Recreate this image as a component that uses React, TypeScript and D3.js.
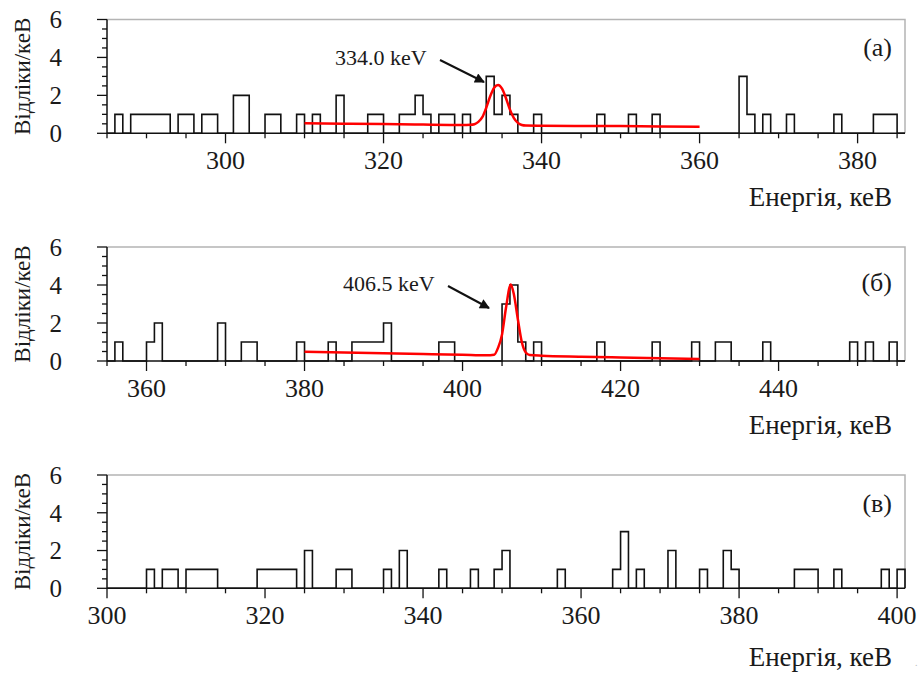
import React from "react";
import * as d3 from "d3";

// ---- data ----
// panel (a)
const binsA = [286, 288, 289, 290, 291, 292, 294, 295, 297, 298, 301, 302, 305, 306, 309, 311, 314, 318, 319, 322, 323, 324, 325, 327, 328, 330, 333, 334, 335, 336, 339, 347, 351, 354, 365, 366, 368, 371, 377, 382, 383, 384];
const countsA = [1, 1, 1, 1, 1, 1, 1, 1, 1, 1, 2, 2, 1, 1, 1, 1, 2, 1, 1, 1, 1, 2, 1, 1, 1, 1, 3, 1, 2, 1, 1, 1, 1, 1, 3, 1, 1, 1, 1, 1, 1, 1];
const fitAx = [310, 315, 320, 325, 330, 331, 331.5, 332, 332.5, 333, 333.5, 334, 334.5, 335, 335.5, 336, 336.5, 337, 337.5, 338, 340, 345, 350, 355, 360];
const fitAy = [0.53, 0.51, 0.49, 0.46, 0.44, 0.45, 0.48, 0.6, 0.85, 1.35, 1.95, 2.4, 2.55, 2.35, 1.85, 1.25, 0.8, 0.55, 0.44, 0.41, 0.4, 0.39, 0.38, 0.36, 0.35];

// panel (б)
const binsB = [356, 360, 361, 369, 372, 373, 379, 383, 386, 387, 388, 389, 390, 397, 398, 405, 406, 407, 409, 417, 424, 429, 432, 433, 438, 449, 451, 454];
const countsB = [1, 1, 2, 2, 1, 1, 1, 1, 1, 1, 1, 1, 2, 1, 1, 3, 4, 1, 1, 1, 1, 1, 1, 1, 1, 1, 1, 1];
const fitBx = [380, 385, 390, 395, 400, 403, 404, 404.5, 405, 405.5, 406.1, 406.5, 407, 407.5, 408, 408.5, 410, 415, 420, 425, 430];
const fitBy = [0.49, 0.45, 0.41, 0.37, 0.33, 0.3, 0.33, 0.7, 1.4, 2.8, 4.02, 3.5, 2.2, 1.0, 0.45, 0.32, 0.28, 0.23, 0.19, 0.15, 0.11];

// panel (в)
const binsC = [305, 307, 308, 310, 311, 312, 313, 319, 320, 321, 322, 323, 325, 329, 330, 335, 337, 342, 346, 349, 350, 357, 364, 365, 367, 371, 375, 378, 379, 387, 388, 389, 392, 398, 400];
const countsC = [1, 1, 1, 1, 1, 1, 1, 1, 1, 1, 1, 1, 2, 1, 1, 1, 2, 1, 1, 1, 2, 1, 1, 3, 1, 2, 1, 2, 1, 1, 1, 1, 1, 1, 1];

const yTicksMajor = [0, 2, 4, 6];
const xAxisTitle = "Енергія, кеВ";
const yAxisTitle = "Відліки/кеВ";

// ---- layout ----
const W = 919;
const H = 674;
const X0 = 107;
const X1 = 905;
const TXT = "#1a1a1a";

type Panel = {
  top: number;
  base: number;
  domain: [number, number];
  bins: number[];
  counts: number[];
  fitX?: number[];
  fitY?: number[];
  label: string;
  labelY: number;
  titleY: number;
  note?: { text: string; tx: number; ty: number; ax1: number; ay1: number; ax2: number; ay2: number };
};

const panels: Panel[] = [
  {
    top: 19.5, base: 133.3, domain: [285, 386], bins: binsA, counts: countsA,
    fitX: fitAx, fitY: fitAy, label: "(a)", labelY: 56, titleY: 206,
    note: { text: "334.0 keV", tx: 335, ty: 65, ax1: 440, ay1: 60, ax2: 484, ay2: 82 },
  },
  {
    top: 247, base: 361, domain: [355, 456], bins: binsB, counts: countsB,
    fitX: fitBx, fitY: fitBy, label: "(б)", labelY: 291, titleY: 434,
    note: { text: "406.5 keV", tx: 343, ty: 291, ax1: 448, ay1: 286, ax2: 489, ay2: 308 },
  },
  {
    top: 475, base: 588.3, domain: [300, 401], bins: binsC, counts: countsC,
    label: "(в)", labelY: 512, titleY: 666,
  },
];

const textStyle: React.CSSProperties = { fontFamily: "'Liberation Serif', 'Times New Roman', Times, serif" };

function PanelView({ p, idx }: { p: Panel; idx: number }) {
  const x = d3.scaleLinear().domain(p.domain).range([X0, X1]);
  const y = d3.scaleLinear().domain([0, 6]).range([p.base, p.top]);

  const cmap = new Map<number, number>();
  p.bins.forEach((b, i) => cmap.set(b, p.counts[i]));
  const pts: [number, number][] = [];
  for (let e = p.domain[0]; e < p.domain[1]; e++) pts.push([e, cmap.get(e) ?? 0]);
  pts.push([p.domain[1], 0]);
  const histPath = d3
    .line<[number, number]>()
    .x((d) => x(d[0]))
    .y((d) => y(d[1]))
    .curve(d3.curveStepAfter)(pts);

  let fitPath: string | null = null;
  if (p.fitX && p.fitY) {
    const fp = p.fitX.map((v, i) => [v, p.fitY![i]] as [number, number]);
    fitPath = d3
      .line<[number, number]>()
      .x((d) => x(d[0]))
      .y((d) => y(d[1]))
      .curve(d3.curveMonotoneX)(fp);
  }

  const minor: number[] = [];
  for (let v = Math.ceil(p.domain[0] / 5) * 5; v <= p.domain[1]; v += 5) minor.push(v);
  const major = minor.filter((v) => v % 20 === 0);
  const yMinor = d3.range(0, 6.01, 0.5);

  return (
    <g style={textStyle}>
      <path d={`M${X0},${p.top}H${X1}V${p.base}`} fill="none" stroke="#b4b4b4" strokeWidth={1.5} />
      <line x1={X0} x2={X0} y1={p.base} y2={p.top} stroke="#111" strokeWidth={1.5} />
      <line x1={X0} x2={X1} y1={p.base} y2={p.base} stroke="#111" strokeWidth={1.5} />
      {yMinor.map((v) => (
        <line key={"ym" + v} x1={X0 - (v % 2 === 0 ? 10 : 5)} x2={X0} y1={y(v)} y2={y(v)} stroke="#111" strokeWidth={1.3} />
      ))}
      {yTicksMajor.map((v) => (
        <text key={"yl" + v} x={62} y={y(v)} dy="0.35em" textAnchor="end" fontSize={25} fill={TXT}>
          {v}
        </text>
      ))}
      {minor.map((v) => (
        <line key={"xm" + v} x1={x(v)} x2={x(v)} y1={p.base} y2={p.base + (v % 20 === 0 ? 10 : 5)} stroke="#111" strokeWidth={1.3} />
      ))}
      {major.map((v) => (
        <text key={"xl" + v} x={x(v)} y={p.base + 36} textAnchor="middle" fontSize={26} fill={TXT}>
          {v}
        </text>
      ))}
      <path d={histPath ?? ""} fill="none" stroke="#111" strokeWidth={1.6} />
      {fitPath && <path d={fitPath} fill="none" stroke="#ff0000" strokeWidth={2.5} />}
      {p.note && (
        <g>
          <text x={p.note.tx} y={p.note.ty} fontSize={22} fill={TXT}>
            {p.note.text}
          </text>
          <line x1={p.note.ax1} y1={p.note.ay1} x2={p.note.ax2} y2={p.note.ay2} stroke="#111" strokeWidth={2} markerEnd="url(#arrow)" />
        </g>
      )}
      <text x={892} y={p.labelY} textAnchor="end" fontSize={26} fill={TXT}>
        {p.label}
      </text>
      <text x={892} y={p.titleY} textAnchor="end" fontSize={27} fill={TXT}>
        {xAxisTitle}
      </text>
      <text transform={`translate(30,${(p.top + p.base) / 2}) rotate(-90)`} textAnchor="middle" fontSize={23} fill={TXT}>
        {yAxisTitle}
      </text>
      {idx === 2 && (
        <text x={915} y={666} fontSize={10} fill="#bbb">
          .
        </text>
      )}
    </g>
  );
}

export default function App() {
  return (
    <>
      <style>{`body{margin:0;}`}</style>
      <svg width={W} height={H} style={{ display: "block", background: "#fff" }}>
        <defs>
          <marker id="arrow" viewBox="0 0 10 10" refX={9} refY={5} markerWidth={13} markerHeight={10} markerUnits="userSpaceOnUse" orient="auto">
            <path d="M0,0 L10,5 L0,10 z" fill="#111" />
          </marker>
        </defs>
        <rect x={0} y={0} width={W} height={H} fill="#fff" />
        {panels.map((p, i) => (
          <PanelView key={i} p={p} idx={i} />
        ))}
      </svg>
    </>
  );
}
